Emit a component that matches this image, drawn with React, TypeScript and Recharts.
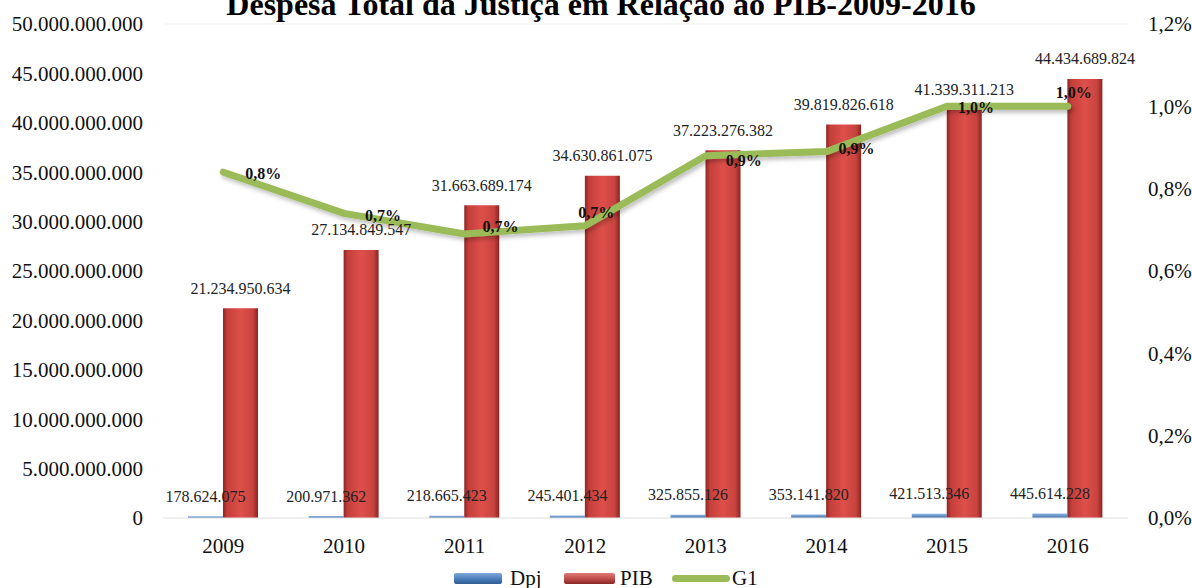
import React from 'react';
import { ComposedChart, Bar, Line, XAxis, YAxis, CartesianGrid, LabelList } from 'recharts';

const YEARS = ['2009', '2010', '2011', '2012', '2013', '2014', '2015', '2016'];
const DPJ = [178624075, 200971362, 218665423, 245401434, 325855126, 353141820, 421513346, 445614228];
const PIB = [21234950634, 27134849547, 31663689174, 34630861075, 37223276382, 39819826618, 41339311213, 44434689824];
const G1 = [0.84, 0.74, 0.69, 0.71, 0.88, 0.89, 1.0, 1.0];
const LEFT_TICKS = [0, 5e9, 10e9, 15e9, 20e9, 25e9, 30e9, 35e9, 40e9, 45e9, 50e9];
const RIGHT_TICKS = [0, 0.2, 0.4, 0.6, 0.8, 1.0, 1.2];

const data = YEARS.map((year, i) => ({ year, dpj: DPJ[i], pib: PIB[i], g1: G1[i] }));

const FONT = '"Liberation Serif", "Times New Roman", serif';

const dots = (n: number) => String(Math.round(n)).replace(/\B(?=(\d{3})+(?!\d))/g, '.');
const pct = (v: number) => v.toFixed(1).replace('.', ',') + '%';

// where each G1 label sits relative to its point
const G1_OFFSETS = [[40, 1], [39, 2], [36, -7], [11, -13], [38, 5], [30, -3], [29, 1], [6, -14]];

const BarValue = (props: any) => {
  const { x, y, width, value } = props;
  return (
    <text x={x + width / 2} y={y - 20} textAnchor="middle" dominantBaseline="central"
      fontFamily={FONT} fontSize={16} fill="#222">
      {dots(value)}
    </text>
  );
};

const LineValue = (props: any) => {
  const { x, y, value, index } = props;
  const [dx, dy] = G1_OFFSETS[index] || [36, 0];
  return (
    <text x={x + dx} y={y + dy} textAnchor="middle" dominantBaseline="central"
      fontFamily={FONT} fontSize={16} fontWeight="bold" fill="#111">
      {pct(value)}
    </text>
  );
};

const Legend = () => (
  <div style={{ position: 'absolute', top: 564, left: 0, width: 1192, height: 30, fontFamily: FONT, fontSize: 21, color: '#111' }}>
    <div style={{ position: 'absolute', left: 454, top: 9, width: 48, height: 11, background: 'linear-gradient(#7fa8dd, #4f81bd 50%, #2f5d94)', borderRadius: 2 }} />
    <span style={{ position: 'absolute', left: 510, top: 0, lineHeight: '28px' }}>Dpj</span>
    <div style={{ position: 'absolute', left: 564, top: 9, width: 51, height: 11, background: 'linear-gradient(#e07a77, #c0504d 50%, #8a2522)', borderRadius: 2 }} />
    <span style={{ position: 'absolute', left: 620, top: 0, lineHeight: '28px' }}>PIB</span>
    <div style={{ position: 'absolute', left: 672, top: 11, width: 58, height: 7, background: '#9bbb59', borderRadius: 4 }} />
    <span style={{ position: 'absolute', left: 732, top: 0, lineHeight: '28px' }}>G1</span>
  </div>
);

const tickStyle = { fontFamily: FONT, fontSize: 21, fill: '#111' };

export default function App() {
  return (
    <div style={{ position: 'absolute', left: 0, top: 0, width: 1192, height: 588, overflow: 'hidden', background: '#fff' }}>
      <div style={{ position: 'absolute', left: 0, top: -14, width: 1202, textAlign: 'center', fontFamily: FONT, fontSize: 32, fontWeight: 'bold', color: '#000', lineHeight: '36px', whiteSpace: 'nowrap' }}>
        Despesa Total da Justiça em Relação ao PIB-2009-2016
      </div>
      <ComposedChart width={1192} height={588} data={data}
        margin={{ top: 24, right: 0, bottom: 30, left: 0 }} barGap={0}>
        <defs>
          <linearGradient id="redBar" x1="0" y1="0" x2="1" y2="0">
            <stop offset="0" stopColor="#8f2624" />
            <stop offset="0.12" stopColor="#c43f3b" />
            <stop offset="0.5" stopColor="#de4f4a" />
            <stop offset="0.85" stopColor="#c8433f" />
            <stop offset="1" stopColor="#8a2421" />
          </linearGradient>
          <linearGradient id="blueBar" x1="0" y1="0" x2="0" y2="1">
            <stop offset="0" stopColor="#8fb4e3" />
            <stop offset="1" stopColor="#3f6fa9" />
          </linearGradient>
          <filter id="lineShadow" x="-5%" y="-20%" width="110%" height="140%">
            <feDropShadow dx="2" dy="3" stdDeviation="2" floodColor="#000" floodOpacity="0.25" />
          </filter>
        </defs>
        <CartesianGrid vertical={false} stroke="#efefef" />
        <XAxis dataKey="year" height={40} tickSize={0} tickMargin={20} axisLine={{ stroke: '#e6e6e6' }}
          tick={tickStyle} />
        <YAxis yAxisId="left" width={163} domain={[0, 50e9]} ticks={LEFT_TICKS} tickSize={0} tickMargin={20}
          axisLine={false} tickFormatter={dots} tick={tickStyle} />
        <YAxis yAxisId="right" orientation="right" width={64} domain={[0, 1.2]} ticks={RIGHT_TICKS} tickSize={0}
          tickMargin={20} axisLine={false} tickFormatter={pct} tick={{ ...tickStyle, textAnchor: 'start' }} />
        <Bar yAxisId="left" dataKey="dpj" name="Dpj" barSize={35} fill="url(#blueBar)" isAnimationActive={false}>
          <LabelList dataKey="dpj" content={BarValue} />
        </Bar>
        <Bar yAxisId="left" dataKey="pib" name="PIB" barSize={35} fill="url(#redBar)" isAnimationActive={false}>
          <LabelList dataKey="pib" content={BarValue} />
        </Bar>
        <Line yAxisId="right" dataKey="g1" name="G1" type="linear" stroke="#9bbb59" strokeWidth={7}
          strokeLinecap="round" strokeLinejoin="round" dot={false} filter="url(#lineShadow)" isAnimationActive={false}>
          <LabelList dataKey="g1" content={LineValue} />
        </Line>
      </ComposedChart>
      <Legend />
    </div>
  );
}
